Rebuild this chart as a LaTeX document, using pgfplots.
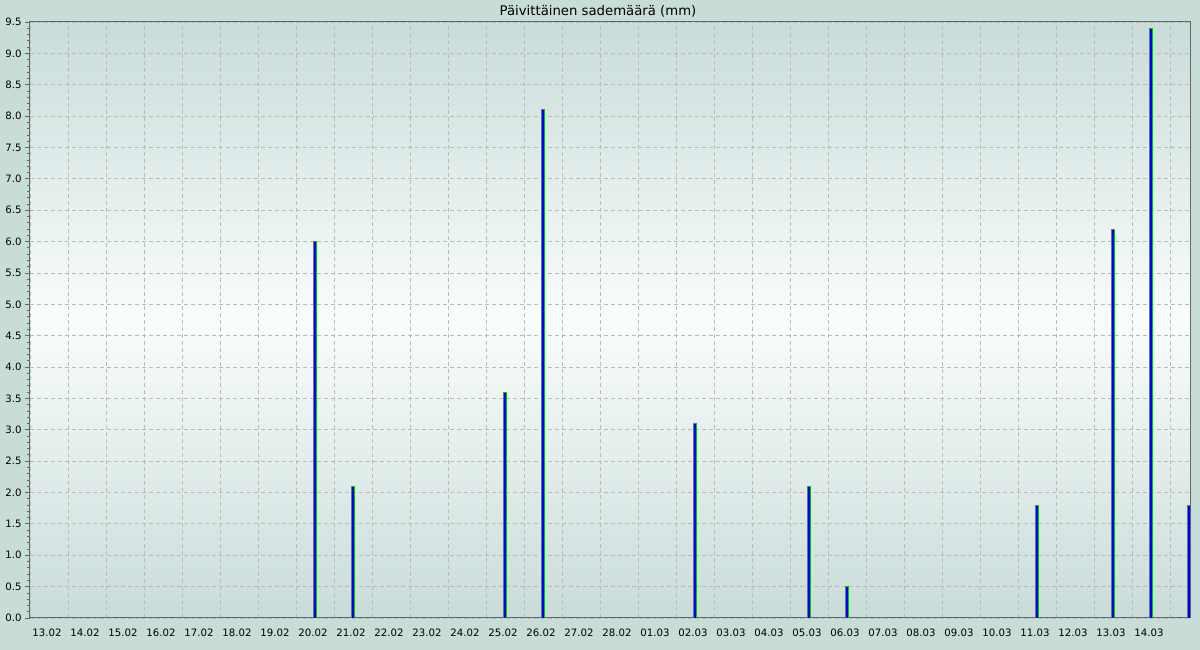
\documentclass[border=0pt]{standalone}
\usepackage{fontspec}
\setmainfont{DejaVu Sans}
\usepackage{pgfplots}
\pgfplotsset{compat=1.18}
\definecolor{bgout}{HTML}{C8DCD8}
\definecolor{bgtop}{HTML}{C9DCD9}
\definecolor{bgmid}{HTML}{F9FDFD}
\definecolor{gridc}{HTML}{BBBBBB}
\definecolor{axc}{HTML}{666666}
\definecolor{barblue}{HTML}{0000FF}
\definecolor{bargreen}{HTML}{22AA22}
\begin{document}
\begin{tikzpicture}[x=1bp,y=1bp]
\fill[bgout] (-30,-32) rectangle (1170,618);
\shade[top color=bgtop, bottom color=bgtop, middle color=bgmid] (0,0) rectangle (1160,596);
\begin{axis}[at={(0,0)}, anchor=south west, scale only axis,
  width=1160bp, height=596bp,
  xmin=-0.5, xmax=30.026, ymin=0, ymax=9.5,
  axis line style={axc, line width=1bp},
  xtick={0,...,29},
  xticklabels={13.02,14.02,15.02,16.02,17.02,18.02,19.02,20.02,21.02,22.02,23.02,24.02,25.02,26.02,27.02,28.02,01.03,02.03,03.03,04.03,05.03,06.03,07.03,08.03,09.03,10.03,11.03,12.03,13.03,14.03},
  minor xtick={-0.5,0.5,...,29.5},
  xminorgrids, ymajorgrids, xmajorgrids=false,
  xtick style={draw=none},
  ytick={0,0.5,...,9.5},
  minor y tick num=4,
  ytick pos=left,
  tick align=outside,
  major tick length=5bp, minor tick length=3bp,
  ytick style={axc, line width=0.8bp},
  yticklabel style={/pgf/number format/.cd, fixed, fixed zerofill, precision=1},
  /pgf/number format/assume math mode=true,
  ticklabel style={font=\fontsize{10.2}{12}\selectfont, text=black},
  xticklabel style={anchor=base, yshift=-14bp, xshift=-2bp},
  grid style={gridc, dash pattern=on 4bp off 3bp, line width=0.8bp},
  minor grid style={gridc, dash pattern=on 4bp off 3bp, line width=0.8bp},
  title={Päivittäinen sademäärä (mm)},
  title style={at={(0.5,1)}, anchor=base, yshift=1bp, xshift=-12bp, font=\fontsize{13.3}{15}\selectfont},
]
\addplot[ybar, bar width=3bp, fill=barblue, draw=bargreen, line width=0.7bp] coordinates {
(7,6.0) (8,2.1) (12,3.6) (13,8.1) (17,3.1) (20,2.1) (21,0.5) (26,1.8) (28,6.2) (29,9.4) (30,1.8)
};
\end{axis}
\pgfresetboundingbox
\path[use as bounding box] (-30,-32) rectangle (1170,618);
\end{tikzpicture}
\end{document}
